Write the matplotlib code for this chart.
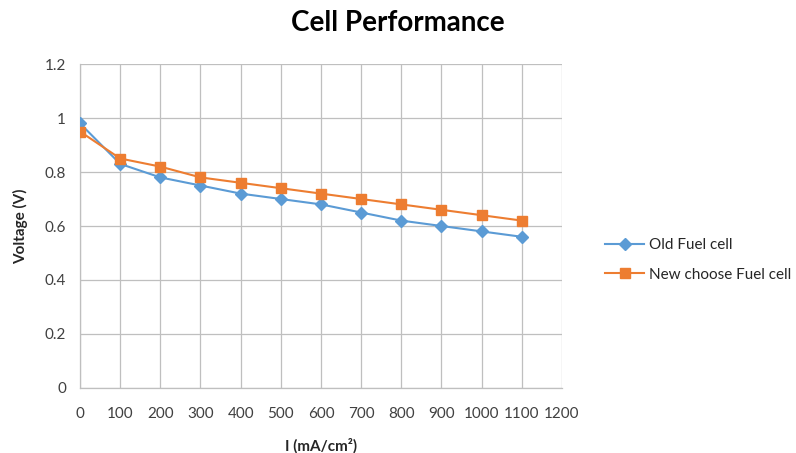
import matplotlib
matplotlib.use("Agg")
import matplotlib.pyplot as plt

current = [0, 100, 200, 300, 400, 500, 600, 700, 800, 900, 1000, 1100]
old_cell = [0.98, 0.83, 0.78, 0.75, 0.72, 0.70, 0.68, 0.65, 0.62, 0.60, 0.58, 0.56]
new_cell = [0.95, 0.85, 0.82, 0.78, 0.76, 0.74, 0.72, 0.70, 0.68, 0.66, 0.64, 0.62]
x_ticks = list(range(0, 1300, 100))
y_ticks = [0, 0.2, 0.4, 0.6, 0.8, 1, 1.2]
y_tick_labels = ["0", "0.2", "0.4", "0.6", "0.8", "1", "1.2"]

plt.rcParams['font.family'] = ['Lato', 'DejaVu Sans']

fig = plt.figure(figsize=(7.96, 4.53), dpi=100)
ax = fig.add_axes([0.1005, 0.1435, 0.6055, 0.7152])

ax.plot(current, old_cell, color="#5B9BD5", marker="D", markersize=6.5, lw=1.5,
        label="Old Fuel cell", zorder=3)
ax.plot(current, new_cell, color="#ED7D31", marker="s", markersize=6.5, lw=1.5,
        label="New choose Fuel cell", zorder=3)

ax.set_xlim(0, 1200)
ax.set_ylim(0, 1.2)
ax.set_xticks(x_ticks)
ax.set_xticklabels([str(v) for v in x_ticks])
ax.set_yticks(y_ticks)
ax.set_yticklabels(y_tick_labels)
ax.grid(True, color="#BFBFBF", lw=0.9)
ax.set_axisbelow(True)
for s in ["top", "right"]:
    ax.spines[s].set_visible(False)
for s in ["left", "bottom"]:
    ax.spines[s].set_color("#BFBFBF")
    ax.spines[s].set_linewidth(0.9)
ax.tick_params(length=0, labelsize=11, colors="#404040", pad=10)
ax.tick_params(axis="x", pad=14)

ax.set_xlabel("I (mA/cm²)", fontsize=11, fontweight="bold", color="#262626", labelpad=12)
ax.set_ylabel("Voltage (V)", fontsize=11, fontweight="bold", color="#262626", labelpad=12)

fig.text(0.5, 0.95, "Cell Performance", ha="center", va="center",
         fontsize=20, fontweight="bold", color="#000000")

leg = ax.legend(loc="center left", bbox_to_anchor=(1.06, 0.395), frameon=False,
                fontsize=11, handlelength=2.6, labelspacing=1.0, handletextpad=0.3)
for t in leg.get_texts():
    t.set_color("#262626")

fig.savefig("out.png", dpi=100)
